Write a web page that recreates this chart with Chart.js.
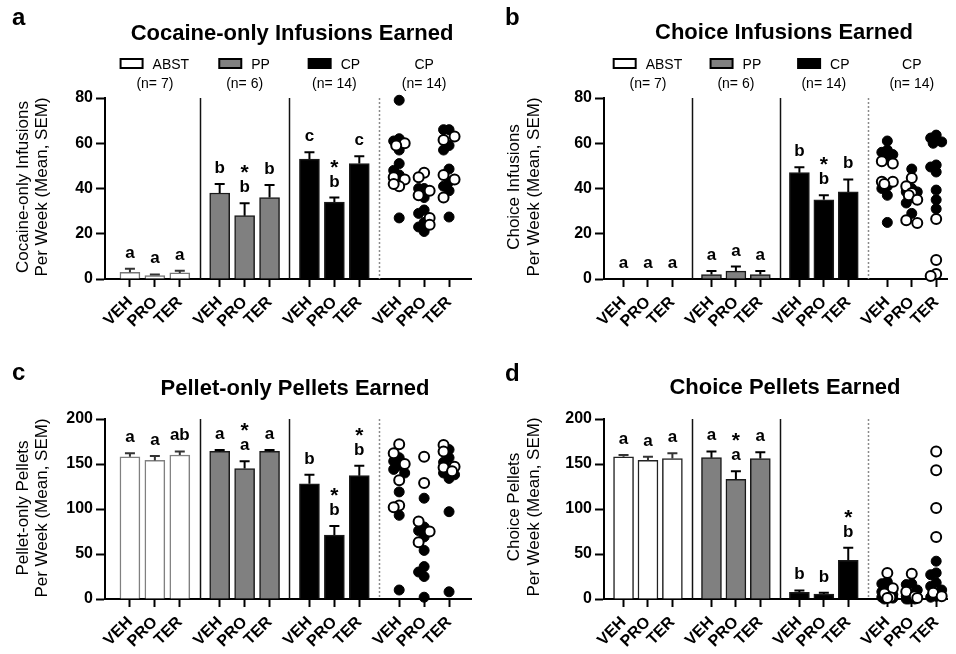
<!DOCTYPE html>
<html>
<head>
<meta charset="utf-8">
<script src="https://cdn.jsdelivr.net/npm/chart.js@4.4.1/dist/chart.umd.min.js"></script>
<style>
  body { margin: 0; background: #fff; }
  #wrap { position: relative; width: 956px; height: 654px; overflow: hidden; }
  canvas { position: absolute; }
</style>
</head>
<body>
<div id="wrap">
  <canvas id="pa" width="478" height="345" style="left:0;top:0"></canvas>
  <canvas id="pb" width="478" height="345" style="left:478px;top:0"></canvas>
  <canvas id="pc" width="478" height="314" style="left:0;top:340px"></canvas>
  <canvas id="pd" width="478" height="314" style="left:478px;top:340px"></canvas>
</div>
<script>
// ====== Data
const groups = ["ABST", "PP", "CP", "CP"];
const groupN = ["(n= 7)", "(n= 6)", "(n= 14)", "(n= 14)"];
const drugs = ["VEH", "PRO", "TER"];

// a: cocaine-only infusions (ABST x3, PP x3, CP x3)
const cocMean = [3, 1.5, 2.7, 38, 28, 36, 53, 34, 51];
const cocSem = [1.5, 0.5, 1, 4, 5.5, 5.5, 3, 2, 3.3];
const cocLetters = ["a", "a", "a", "b", "*b", "b", "c", "*b", "c"];
const cocFilled = [[79, 62, 61, 57, 51, 48, 46, 27], [40, 40, 36, 30.5, 29, 25, 23, 21], [66, 66, 59, 57, 48.6, 43, 41, 39, 27.4]];
const cocOpen = [[60, 59, 45, 44, 41, 42], [47, 45, 39, 37, 27, 24], [63, 61.4, 46, 44, 36]];

// b: choice infusions
const chInfMean = [0, 0, 0, 2, 3.5, 2, 47, 35, 38.5];
const chInfSem = [0, 0, 0, 1.5, 2, 1.5, 2.4, 2, 5.5];
const chInfLetters = ["a", "a", "a", "a", "a", "a", "b", "*b", "b"];
const chInfFilled = [[61, 57, 56, 55, 54, 41, 40, 37, 25], [48.6, 40, 38.5, 38.5, 36, 33.6, 29], [63.6, 62.3, 60.6, 60, 50.4, 49.5, 47.3, 39.3, 35, 31]];
const chInfOpen = [[52, 51, 43, 43, 42], [44.6, 41, 38, 37, 35, 26, 24.7], [26.5, 8.4, 2.2, 1.3]];

// c: pellet-only pellets
const pelMean = [158, 154, 160, 164, 145, 164, 128, 71, 137];
const pelSem = [4, 5, 4, 1.5, 8, 1.5, 10, 10, 11];
const pelLetters = ["a", "a", "ab", "a", "*a", "a", "b", "*b", "*b"];
const pelFilled = [[157, 153, 148, 144, 140, 119, 93, 10], [112, 80, 76, 69, 54, 36, 30, 25, 2], [166, 157, 152, 145, 140, 138, 134, 97, 8]];
const pelOpen = [[172, 162, 150, 132, 104, 102], [158, 129, 86, 75, 63], [171, 164, 147, 146, 142]];

// d: choice pellets
const chPelMean = [158, 154, 156, 157, 133, 156, 7.5, 5.5, 43];
const chPelSem = [2, 4, 6, 7, 9, 7, 2, 1.5, 14];
const chPelLetters = ["a", "a", "a", "a", "*a", "a", "b", "b", "*b"];
const chPelFilled = [[19, 17, 10, 8, 5, 3, 2, 1, 0], [17, 16, 10, 5, 3, 2, 1, 0, 0, 0], [42, 29, 27, 18, 14, 10, 3, 2]];
const chPelOpen = [[29, 12, 6, 2, 1], [28, 8, 3, 1], [164, 143, 101, 69, 7, 3]];

// ====== Layout helpers
const FONT = '"Liberation Sans", Arial, Helvetica, sans-serif';
const fillCols = ["#ffffff", "#808080", "#000000"];
const barPos = (g, i) => g * 3.6 + i;
const tickPos = [0, 1, 2, 3].flatMap(g => [0, 1, 2].map(i => barPos(g, i)));

const makeAnnotate = (o) => ({
  id: "annotate",
  // spread overlapping dots sideways a little (simple beeswarm)
  afterDatasetsUpdate(chart) {
    const cols = {};
    chart.data.datasets.forEach((ds, i) => {
      if (ds.column === undefined) return;
      (cols[ds.column] = cols[ds.column] || []).push(...chart.getDatasetMeta(i).data);
    });
    Object.values(cols).forEach(pts => {
      const placed = [];
      pts.forEach(p => {
        let best = p.x, bestD = -1;
        for (const off of [0, -5.5, 5.5, -3, 3]) {
          const nx = p.x + off;
          const d = placed.reduce((m, q) => Math.min(m, Math.hypot(q.x - nx, q.y - p.y)), Infinity);
          if (d >= 7) { best = nx; break; }
          if (d > bestD) { bestD = d; best = nx; }
        }
        p.x = best;
        placed.push({ x: best, y: p.y });
      });
    });
  },
  beforeDatasetsDraw(chart) {
    const { ctx, chartArea: a, scales: { x } } = chart;
    ctx.save();
    [2.8, 6.4, 10].forEach((v, k) => {
      const px = Math.round(x.getPixelForValue(v)) + 0.5;
      ctx.beginPath();
      ctx.moveTo(px, a.top);
      ctx.lineTo(px, a.bottom);
      ctx.lineWidth = 1.5;
      ctx.strokeStyle = k < 2 ? "#111" : "#8a8a8a";
      ctx.setLineDash(k < 2 ? [] : [2, 2]);
      ctx.stroke();
    });
    ctx.restore();
  },
  afterDatasetsDraw(chart) {
    const { ctx, scales: { x, y } } = chart;
    ctx.save();
    o.mean.forEach((m, k) => {
      const px = x.getPixelForValue(barPos(Math.floor(k / 3), k % 3));
      const top = y.getPixelForValue(m + o.sem[k]);
      if (o.sem[k] > 0) {
        const y0 = y.getPixelForValue(m);
        ctx.beginPath();
        ctx.moveTo(px, y0); ctx.lineTo(px, top);
        ctx.moveTo(px - 5, top); ctx.lineTo(px + 5, top);
        ctx.lineWidth = 2;
        ctx.strokeStyle = k < 3 ? "#333" : "#000";
        ctx.stroke();
      }
      // significance letters
      const s = o.letters[k];
      const base = top - 11;
      ctx.fillStyle = "#000";
      ctx.textAlign = "center";
      ctx.textBaseline = "alphabetic";
      ctx.font = `bold 17px ${FONT}`;
      ctx.fillText(s.replace("*", ""), px, base);
      if (s.startsWith("*")) {
        ctx.font = `bold 21px ${FONT}`;
        ctx.fillText("*", px, base - 13);
      }
    });
    ctx.restore();
  },
  afterDraw(chart) {
    const { ctx, scales: { x } } = chart;
    ctx.save();
    ctx.fillStyle = "#000";
    ctx.textBaseline = "alphabetic";
    ctx.textAlign = "left";
    ctx.font = `bold 24px ${FONT}`;
    ctx.fillText(o.letter, o.letterX, o.letterY);
    ctx.textAlign = "center";
    ctx.font = `bold 22px ${FONT}`;
    ctx.fillText(o.title, o.titleX, o.titleY);

    // y title (two lines, rotated)
    ctx.save();
    ctx.translate(0, o.yTitleY);
    ctx.rotate(-Math.PI / 2);
    ctx.font = `17px ${FONT}`;
    ctx.textBaseline = "middle";
    o.yTitle.forEach((t, i) => ctx.fillText(t, 0, o.yTitleX[i]));
    ctx.restore();

    if (o.legend) {
      ctx.font = `14px ${FONT}`;
      groups.forEach((g, gi) => {
        const cx = x.getPixelForValue(barPos(gi, 1));
        if (gi < 3) {
          const tw = ctx.measureText(g).width;
          const left = cx - (32 + tw) / 2;
          ctx.fillStyle = fillCols[gi];
          ctx.fillRect(left, 59, 22, 9);
          ctx.strokeStyle = "#000";
          ctx.lineWidth = 2;
          ctx.strokeRect(left, 59, 22, 9);
          ctx.fillStyle = "#000";
          ctx.textAlign = "left";
          ctx.fillText(g, left + 32, 69);
        } else {
          ctx.textAlign = "center";
          ctx.fillText(g, cx, 69);
        }
        ctx.textAlign = "center";
        ctx.fillText(groupN[gi], cx, 88);
      });
    }
    ctx.restore();
  },
});

const makePanel = (id, o) => {
  const datasets = [{
    type: "bar",
    order: 3,
    data: o.mean.map((v, k) => ({ x: barPos(Math.floor(k / 3), k % 3), y: v })),
    backgroundColor: o.mean.map((_, k) => fillCols[Math.floor(k / 3)]),
    borderColor: o.mean.map((_, k) => (k < 3 ? o.abstEdge : "#1a1a1a")),
    borderWidth: 1.5,
    barThickness: 20,
  }];
  [o.filled, o.open].forEach((set, t) => set.forEach((vals, c) => datasets.push({
    type: "scatter",
    order: 2 - t,
    column: c,
    data: vals.map(v => ({ x: barPos(3, c), y: v })),
    pointRadius: 5,
    pointHoverRadius: 5,
    pointBackgroundColor: t ? "#ffffff" : "#000000",
    pointBorderColor: "#000000",
    pointBorderWidth: t ? 2 : 1,
    clip: false,
  })));

  const tickFont = { family: FONT, size: 16, weight: "bold" };
  new Chart(document.getElementById(id), {
    type: "bar",
    data: { datasets },
    options: {
      responsive: false,
      animation: false,
      events: [],
      layout: { padding: { top: o.padTop, right: o.padRight, left: 0, bottom: 0 } },
      plugins: { legend: { display: false }, tooltip: { enabled: false }, title: { display: false } },
      scales: {
        x: {
          type: "linear",
          min: o.xMin,
          max: o.xMax,
          offset: false,
          afterBuildTicks: (s) => { s.ticks = tickPos.map(v => ({ value: v })); },
          afterFit: (s) => { s.height = o.xH; },
          ticks: {
            autoSkip: false, minRotation: 45, maxRotation: 45, padding: 6,
            color: "#000", font: { family: FONT, size: 16, weight: "bold" },
            callback: (v, i) => drugs[i % 3],
          },
          grid: { drawOnChartArea: false, tickLength: 8, tickWidth: 2, color: "#000", offset: false },
          border: { color: "#000", width: 2 },
        },
        y: {
          min: 0,
          max: o.yMax,
          afterFit: (s) => { s.width = o.yW; },
          ticks: { stepSize: o.step, padding: 3, color: "#000", font: tickFont },
          grid: { drawOnChartArea: false, tickLength: 9, tickWidth: 2, color: "#000" },
          border: { color: "#000", width: 2 },
        },
      },
    },
    plugins: [makeAnnotate(o)],
  });
};

document.addEventListener("DOMContentLoaded", () => {
  const top = { padTop: 98, xH: 66, yMax: 80, step: 20, legend: true, letterY: 25, titleY: 40, yTitleY: 187 };
  const bottom = { padTop: 79, xH: 55, yMax: 200, step: 50, legend: false, letterY: 41, titleY: 55, yTitleY: 168 };
  const left = { yW: 105, padRight: 6, xMin: -1, xMax: 13.68, letterX: 12, yTitleX: [23, 42] };
  const right = { yW: 126, padRight: 0, xMin: -0.8, xMax: 13.28, letterX: 27, yTitleX: [36, 56] };

  makePanel("pa", { ...top, ...left, letter: "a", title: "Cocaine-only Infusions Earned", titleX: 292,
    yTitle: ["Cocaine-only Infusions", "Per Week (Mean, SEM)"], abstEdge: "#777",
    mean: cocMean, sem: cocSem, letters: cocLetters, filled: cocFilled, open: cocOpen });
  makePanel("pb", { ...top, ...right, letter: "b", title: "Choice Infusions Earned", titleX: 306, titleY: 39,
    yTitle: ["Choice Infusions", "Per Week (Mean, SEM)"], abstEdge: "#333",
    mean: chInfMean, sem: chInfSem, letters: chInfLetters, filled: chInfFilled, open: chInfOpen });
  makePanel("pc", { ...bottom, ...left, letter: "c", letterY: 40, title: "Pellet-only Pellets Earned", titleX: 295,
    yTitle: ["Pellet-only Pellets", "Per Week (Mean, SEM)"], abstEdge: "#808080",
    mean: pelMean, sem: pelSem, letters: pelLetters, filled: pelFilled, open: pelOpen });
  makePanel("pd", { ...bottom, ...right, letter: "d", title: "Choice Pellets Earned", titleX: 307, titleY: 54, yTitleY: 167,
    yTitle: ["Choice Pellets", "Per Week (Mean, SEM)"], abstEdge: "#222",
    mean: chPelMean, sem: chPelSem, letters: chPelLetters, filled: chPelFilled, open: chPelOpen });
});
</script>
</body>
</html>
